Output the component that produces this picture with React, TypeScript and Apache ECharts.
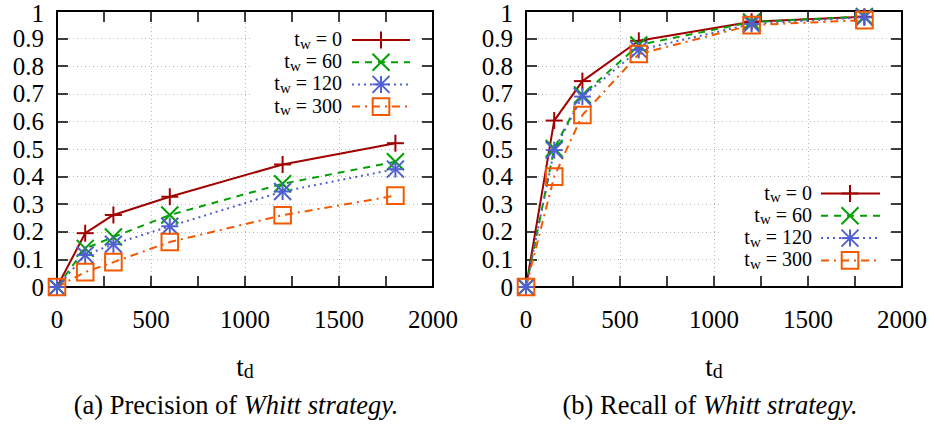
import React, { useEffect, useRef } from 'react';
import * as echarts from 'echarts';

// ---- data ----
const tdValues = [0, 150, 300, 600, 1200, 1800];
const twLabels = ['0', '60', '120', '300'];
const precisionTw0 = [0, 0.195, 0.261, 0.327, 0.444, 0.521];
const precisionTw60 = [0, 0.14, 0.181, 0.261, 0.374, 0.454];
const precisionTw120 = [0, 0.116, 0.155, 0.22, 0.346, 0.427];
const precisionTw300 = [0, 0.054, 0.09, 0.163, 0.26, 0.331];
const recallTw0 = [0, 0.603, 0.746, 0.892, 0.961, 0.979];
const recallTw60 = [0, 0.502, 0.696, 0.877, 0.96, 0.98];
const recallTw120 = [0, 0.496, 0.69, 0.859, 0.953, 0.977];
const recallTw300 = [0, 0.4, 0.623, 0.844, 0.949, 0.967];
const captionPrefixes = ['(a) Precision of ', '(b) Recall of '];
const captionItalic = 'Whitt strategy.';
const xRange = [0, 2000];
const xStep = 500;
const yRange = [0, 1];
const yStep = 0.1;

const FONT = 'Liberation Serif';
const COLORS = ['#A00000', '#00A000', '#5060D0', '#F25900'];
const DASHES: any[] = ['solid', [7, 6], [2, 4], [8, 5, 2, 5]];
const MARKERS = ['plus', 'cross', 'star', 'square'];

function markerEls(kind: string, x: number, y: number, color: string, z?: number) {
  const st = { stroke: color, lineWidth: 2, fill: null as any };
  const ln = (x1: number, y1: number, x2: number, y2: number) => ({
    type: 'line',
    z,
    shape: { x1, y1, x2, y2 },
    style: st,
  });
  const h = 8.5;
  const d = 8.5;
  if (kind === 'plus') return [ln(x - h, y, x + h, y), ln(x, y - h, x, y + h)];
  if (kind === 'cross') return [ln(x - d, y - d, x + d, y + d), ln(x - d, y + d, x + d, y - d)];
  if (kind === 'star')
    return [
      ln(x - h, y, x + h, y),
      ln(x, y - h, x, y + h),
      ln(x - d, y - d, x + d, y + d),
      ln(x - d, y + d, x + d, y - d),
    ];
  const s = 8.3;
  return [
    {
      type: 'rect',
      z,
      shape: { x: x - s, y: y - s, width: 2 * s, height: 2 * s },
      style: { stroke: color, lineWidth: 2, fill: null as any },
    },
  ];
}

const panels = [
  {
    grid: { left: 57, top: 11, width: 376, height: 276 },
    values: [precisionTw0, precisionTw60, precisionTw120, precisionTw300],
    legend: { textRight: 342, lx1: 352, lx2: 410, mx: 381, y0: 40, dy: 22.2, bg: [250, 26, 170, 92] },
    titleX: 245,
    captionX: 236,
  },
  {
    grid: { left: 526, top: 11, width: 376, height: 276 },
    values: [recallTw0, recallTw60, recallTw120, recallTw300],
    legend: { textRight: 812, lx1: 821, lx2: 880, mx: 850, y0: 193.5, dy: 22.3, bg: [722, 181, 167, 92] },
    titleX: 714,
    captionX: 710,
  },
];

const tickLine = { color: '#000', width: 1.5 };
const axisLineStyle = { show: true, onZero: false, lineStyle: { color: '#000', width: 2 } };
const gridLine = { show: true, lineStyle: { color: '#b8b8b8', width: 1, type: [1, 3] as any } };
const plainNumber = (v: number) => String(Math.round(v * 1000) / 1000);
const yLabel = (v: number) => (v >= yRange[1] ? `{top|${plainNumber(v)}}` : plainNumber(v));

function buildOption() {
  const xAxis: any[] = [];
  const yAxis: any[] = [];
  const series: any[] = [];
  const graphics: any[] = [];

  panels.forEach((p, g) => {
    const xBase = {
      gridIndex: g,
      type: 'value',
      min: xRange[0],
      max: xRange[1],
      interval: xStep,
      axisLine: axisLineStyle,
      axisTick: { show: true, inside: true, length: 11, lineStyle: tickLine },
      minorTick: { show: true, splitNumber: 2, length: 11, lineStyle: tickLine },
      minorSplitLine: { show: false },
    };
    xAxis.push({
      ...xBase,
      position: 'bottom',
      axisLabel: {
        show: true,
        showMinLabel: true,
        showMaxLabel: true,
        hideOverlap: false,
        fontFamily: FONT,
        fontSize: 25,
        color: '#000',
        margin: 20,
        formatter: plainNumber,
      },
      splitLine: gridLine,
    });
    xAxis.push({ ...xBase, position: 'top', axisLabel: { show: false }, splitLine: { show: false } });
    const yBase = {
      gridIndex: g,
      type: 'value',
      min: yRange[0],
      max: yRange[1],
      interval: yStep,
      axisLine: axisLineStyle,
      axisTick: { show: true, inside: true, length: 11, lineStyle: tickLine },
    };
    yAxis.push({
      ...yBase,
      position: 'left',
      axisLabel: {
        show: true,
        showMinLabel: true,
        showMaxLabel: true,
        hideOverlap: false,
        fontFamily: FONT,
        fontSize: 25,
        lineHeight: 14,
        color: '#000',
        margin: 13,
        formatter: yLabel,
        rich: {
          top: {
            fontFamily: FONT,
            fontSize: 25,
            lineHeight: 14,
            color: '#000',
            padding: [5, 0, 0, 0],
          },
        },
      },
      splitLine: gridLine,
    });
    yAxis.push({ ...yBase, position: 'right', axisLabel: { show: false }, splitLine: { show: false } });

    p.values.forEach((vals, i) => {
      const pts = tdValues.map((t, k) => [t, vals[k]]);
      series.push({
        type: 'line',
        name: 'tw=' + twLabels[i],
        xAxisIndex: g * 2,
        yAxisIndex: g * 2,
        data: pts,
        symbol: 'none',
        showSymbol: false,
        silent: true,
        z: 3,
        lineStyle: { color: COLORS[i], width: 2, type: DASHES[i] },
      });
      series.push({
        type: 'custom',
        xAxisIndex: g * 2,
        yAxisIndex: g * 2,
        data: pts,
        clip: false,
        silent: true,
        z: 4,
        renderItem: (params: any, api: any) => {
          const c = api.coord([api.value(0), api.value(1)]);
          return { type: 'group', children: markerEls(MARKERS[i], c[0], c[1], COLORS[i]) };
        },
      });
    });

    // legend
    const L = p.legend;
    graphics.push({
      type: 'rect',
      z: 50,
      shape: { x: L.bg[0], y: L.bg[1], width: L.bg[2], height: L.bg[3] },
      style: { fill: '#fff' },
    });
    twLabels.forEach((tw, i) => {
      const y = L.y0 + i * L.dy;
      graphics.push({
        type: 'text',
        z: 60,
        x: L.textRight,
        y,
        style: {
          text: `{m|t}{s|w}{m| = ${tw}}`,
          align: 'right',
          verticalAlign: 'middle',
          textAlign: 'right',
          textVerticalAlign: 'middle',
          rich: {
            m: { fontFamily: FONT, fontSize: 20, fill: '#000', lineHeight: 22, verticalAlign: 'top' },
            s: {
              fontFamily: FONT,
              fontSize: 15,
              fill: '#000',
              lineHeight: 16,
              verticalAlign: 'bottom',
              padding: [12, 0, 0, 0],
            },
          },
        },
      });
      graphics.push({
        type: 'line',
        z: 60,
        shape: { x1: L.lx1, y1: y, x2: L.lx2, y2: y },
        style: {
          stroke: COLORS[i],
          lineWidth: 2,
          lineDash: DASHES[i] === 'solid' ? null : DASHES[i],
        },
      });
      markerEls(MARKERS[i], L.mx, y, COLORS[i], 61).forEach((e) => graphics.push(e));
    });

    // axis title
    graphics.push({
      type: 'text',
      z: 60,
      x: p.titleX,
      y: 367,
      style: {
        text: '{m|t}{s|d}',
        align: 'center',
        verticalAlign: 'middle',
        textAlign: 'center',
        textVerticalAlign: 'middle',
        rich: {
          m: { fontFamily: FONT, fontSize: 27, fill: '#000', lineHeight: 28, verticalAlign: 'top' },
          s: {
            fontFamily: FONT,
            fontSize: 20,
            fill: '#000',
            lineHeight: 20,
            verticalAlign: 'bottom',
            padding: [16, 0, 0, 0],
          },
        },
      },
    });
    // caption
    graphics.push({
      type: 'text',
      z: 60,
      x: p.captionX,
      y: 405,
      style: {
        text: `{n|${captionPrefixes[g]}}{i|${captionItalic}}`,
        align: 'center',
        verticalAlign: 'middle',
        textAlign: 'center',
        textVerticalAlign: 'middle',
        rich: {
          n: { fontFamily: FONT, fontSize: 26.5, fill: '#000' },
          i: { fontFamily: FONT, fontSize: 26.5, fill: '#000', fontStyle: 'italic' },
        },
      },
    });
  });

  return {
    animation: false,
    backgroundColor: '#fff',
    grid: panels.map((p) => ({ ...p.grid, containLabel: false, outerBoundsMode: 'none' })),
    xAxis,
    yAxis,
    series,
    graphic: { elements: graphics },
  };
}

export default function App() {
  const ref = useRef<HTMLDivElement>(null);
  useEffect(() => {
    if (!ref.current) return;
    const chart = echarts.init(ref.current, undefined, { renderer: 'svg' });
    chart.setOption(buildOption() as any);
    return () => chart.dispose();
  }, []);
  return (
    <div
      ref={ref}
      style={{ position: 'absolute', left: 0, top: 0, width: 935, height: 424, background: '#fff' }}
    />
  );
}
